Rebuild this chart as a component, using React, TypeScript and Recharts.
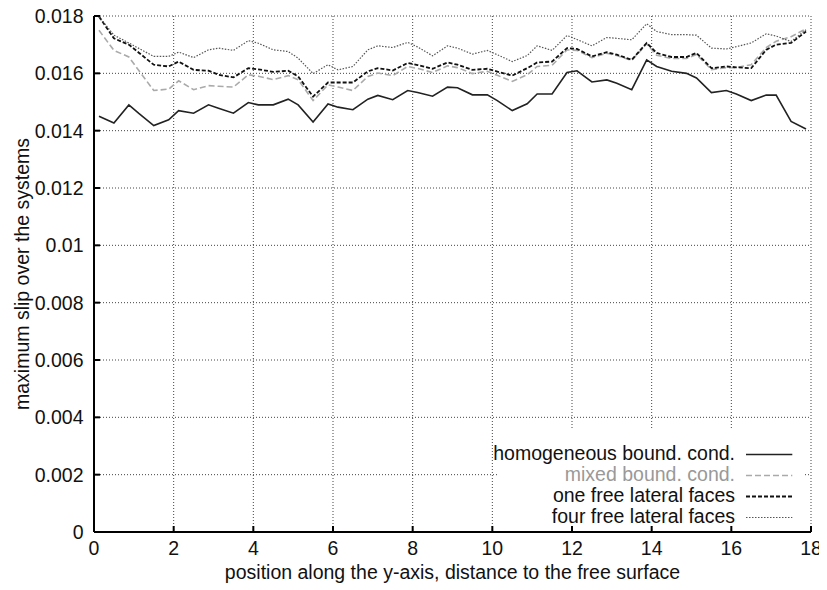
import React from 'react';
import { LineChart, Line, XAxis, YAxis, CartesianGrid, Legend, Label } from 'recharts';

// position along the y-axis (distance to the free surface)
const positions = [
  0.125, 0.5, 0.875, 1.125, 1.5, 1.875, 2.125, 2.5, 2.875, 3.125, 3.5, 3.875,
  4.125, 4.5, 4.875, 5.125, 5.5, 5.875, 6.125, 6.5, 6.875, 7.125, 7.5, 7.875,
  8.125, 8.5, 8.875, 9.125, 9.5, 9.875, 10.125, 10.5, 10.875, 11.125, 11.5, 11.875,
  12.125, 12.5, 12.875, 13.125, 13.5, 13.875, 14.125, 14.5, 14.875, 15.125, 15.5, 15.875,
  16.125, 16.5, 16.875, 17.125, 17.5, 17.875,
];

const homogeneous = [
  0.0145, 0.01427, 0.0149, 0.0146, 0.01418, 0.01438, 0.0147, 0.01461, 0.0149, 0.01478, 0.01461, 0.01498,
  0.0149, 0.0149, 0.0151, 0.0149, 0.0143, 0.01493, 0.01482, 0.01473, 0.0151, 0.01523, 0.01508, 0.0154,
  0.01533, 0.0152, 0.01552, 0.0155, 0.01525, 0.01525, 0.01505, 0.0147, 0.01494, 0.01528, 0.01528, 0.01603,
  0.01609, 0.0157, 0.01577, 0.01565, 0.01543, 0.01647, 0.01624, 0.01607, 0.016, 0.01584, 0.01533, 0.0154,
  0.01528, 0.01505, 0.01524, 0.01524, 0.01432, 0.01406,
];

const mixed = [
  0.0175, 0.0168, 0.01657, 0.0161, 0.0154, 0.01545, 0.01574, 0.01543, 0.01557, 0.01555, 0.01552, 0.01595,
  0.0159, 0.01578, 0.01592, 0.01578, 0.01505, 0.0156, 0.01552, 0.0154, 0.01589, 0.01601, 0.01592, 0.01624,
  0.01617, 0.01603, 0.01626, 0.0162, 0.01599, 0.01607, 0.01593, 0.01572, 0.01595, 0.01624, 0.01628, 0.01682,
  0.0168, 0.01655, 0.0167, 0.01662, 0.01645, 0.01703, 0.01663, 0.01652, 0.01652, 0.01666, 0.01613, 0.0162,
  0.0162, 0.0163, 0.0169, 0.01712, 0.01728, 0.01755,
];

const oneFree = [
  0.01798, 0.01722, 0.017, 0.01672, 0.0163, 0.01624, 0.01641, 0.01612, 0.01609, 0.01595, 0.01586, 0.01618,
  0.01614, 0.01605, 0.01609, 0.01589, 0.01519, 0.01568, 0.01568, 0.01568, 0.01607, 0.01618, 0.0161, 0.01636,
  0.01629, 0.01616, 0.01638, 0.0163, 0.01612, 0.01616, 0.01606, 0.01592, 0.01618, 0.01638, 0.01641, 0.01688,
  0.01685, 0.01659, 0.01674, 0.01665, 0.01647, 0.01706, 0.01671, 0.01657, 0.01657, 0.01671, 0.01618, 0.01624,
  0.01621, 0.01618, 0.01682, 0.017, 0.01706, 0.01746,
];

const fourFree = [
  0.01798, 0.01733, 0.01706, 0.01687, 0.01659, 0.01659, 0.01674, 0.01655, 0.01682, 0.01688, 0.0168, 0.01714,
  0.01705, 0.01682, 0.01676, 0.01653, 0.01599, 0.0163, 0.01612, 0.01624, 0.01682, 0.01696, 0.0169, 0.01708,
  0.01692, 0.01661, 0.01696, 0.01688, 0.01667, 0.0168, 0.01665, 0.01641, 0.01662, 0.01696, 0.0168, 0.01732,
  0.01718, 0.01696, 0.01725, 0.01722, 0.01717, 0.01773, 0.01746, 0.01735, 0.01735, 0.01733, 0.01688, 0.01685,
  0.01693, 0.01706, 0.01738, 0.0173, 0.01711, 0.01752,
];

const xTicks = [0, 2, 4, 6, 8, 10, 12, 14, 16, 18];
const yTicks = [0, 0.002, 0.004, 0.006, 0.008, 0.01, 0.012, 0.014, 0.016, 0.018];

const xLabel = 'position along the y-axis, distance to the free surface';
const yLabel = 'maximum slip over the systems';

const SERIES = [
  { key: 'homogeneous', name: 'homogeneous bound. cond.', stroke: '#222', width: 1.6, dash: undefined as string | undefined, text: '#111' },
  { key: 'mixed', name: 'mixed bound. cond.', stroke: '#aaa', width: 1.6, dash: '6 3', text: '#999' },
  { key: 'oneFree', name: 'one free lateral faces', stroke: '#111', width: 1.8, dash: '4 2', text: '#111' },
  { key: 'fourFree', name: 'four free lateral faces', stroke: '#555', width: 1.2, dash: '1.5 1.5', text: '#111' },
];

const data = positions.map((x, i) => ({
  x,
  homogeneous: homogeneous[i],
  mixed: mixed[i],
  oneFree: oneFree[i],
  fourFree: fourFree[i],
}));

const FONT = '"Liberation Sans", Arial, Helvetica, sans-serif';
const FS = 19.5;
const TICK_LEN = 6;

const BottomTick = (props: any) => {
  const { x, y, payload } = props;
  return (
    <g>
      <line x1={x} x2={x} y1={y} y2={y - TICK_LEN} stroke="#000" strokeWidth={2} />
      <text x={x} y={y + 9} dy="0.71em" textAnchor="middle" fontSize={FS} fontFamily={FONT} fill="#111">
        {String(payload.value)}
      </text>
    </g>
  );
};

const TopTick = (props: any) => {
  const { x, y } = props;
  return <line x1={x} x2={x} y1={y} y2={y + TICK_LEN} stroke="#000" strokeWidth={2} />;
};

const LeftTick = (props: any) => {
  const { x, y, payload } = props;
  return (
    <g>
      <line x1={x} x2={x + TICK_LEN} y1={y} y2={y} stroke="#000" strokeWidth={2} />
      <text x={x - 10.5} y={y} dy="0.355em" textAnchor="end" fontSize={FS} fontFamily={FONT} fill="#111">
        {String(payload.value)}
      </text>
    </g>
  );
};

const RightTick = (props: any) => {
  const { x, y } = props;
  return <line x1={x} x2={x - TICK_LEN} y1={y} y2={y} stroke="#000" strokeWidth={2} />;
};

const LEG_W = 306;
const LEG_H = 97;

const renderLegend = (props: any) => {
  const payload: any[] = props.payload || [];
  return (
    <div style={{ position: 'relative', width: LEG_W, height: LEG_H, background: '#fff', fontFamily: FONT, fontSize: FS }}>
      {SERIES.map((s, i) => {
        const entry = payload.find((p) => p.dataKey === s.key);
        const label = entry ? entry.value : s.name;
        return (
          <div key={s.key} style={{ position: 'absolute', left: 0, top: 14.75 + i * 21.13, width: LEG_W, height: 21.13 }}>
            <span style={{ position: 'absolute', right: 69, top: 0, lineHeight: '21.13px', whiteSpace: 'nowrap', color: s.text }}>
              {label}
            </span>
            <svg style={{ position: 'absolute', left: 247.7, top: 0 }} width={47} height={21.13}>
              <line x1={0} x2={46.3} y1={11.5} y2={11.5} stroke={s.stroke} strokeWidth={s.width} strokeDasharray={s.dash} />
            </svg>
          </div>
        );
      })}
    </div>
  );
};

export default function App() {
  return (
    <div style={{ marginTop: -8, marginLeft: -8, width: 827, height: 590 }}>
      <LineChart width={827} height={590} data={data} margin={{ top: 16, right: 16, bottom: 0, left: 8 }}>
        <CartesianGrid stroke="#444" strokeDasharray="1 2" strokeWidth={1} />
        <XAxis
          dataKey="x"
          type="number"
          domain={[0, 18]}
          ticks={xTicks}
          height={58}
          tickSize={0}
          tickMargin={0}
          tickLine={false}
          axisLine={{ stroke: '#000', strokeWidth: 2 }}
          tick={<BottomTick />}
          interval={0}
        >
          <Label
            content={(p: any) => {
              const vb = p.viewBox || { x: 94, y: 532, width: 717, height: 58 };
              return (
                <text x={vb.x + vb.width / 2} y={vb.y + 47} textAnchor="middle" fontSize={FS} fontFamily={FONT} fill="#111">
                  {xLabel}
                </text>
              );
            }}
          />
        </XAxis>
        <XAxis
          xAxisId="top"
          orientation="top"
          type="number"
          domain={[0, 18]}
          ticks={xTicks}
          height={0}
          tickSize={0}
          tickMargin={0}
          tickLine={false}
          axisLine={{ stroke: '#000', strokeWidth: 2 }}
          tick={<TopTick />}
          interval={0}
        />
        <YAxis
          type="number"
          domain={[0, 0.018]}
          ticks={yTicks}
          width={86}
          tickSize={0}
          tickMargin={0}
          tickLine={false}
          axisLine={{ stroke: '#000', strokeWidth: 2 }}
          tick={<LeftTick />}
          interval={0}
        >
          <Label
            content={(p: any) => {
              const vb = p.viewBox || { x: 8, y: 16, width: 86, height: 516 };
              const cx = vb.x + 21;
              const cy = vb.y + vb.height / 2;
              return (
                <text x={cx} y={cy} transform={`rotate(-90 ${cx} ${cy})`} textAnchor="middle" fontSize={FS} fontFamily={FONT} fill="#111">
                  {yLabel}
                </text>
              );
            }}
          />
        </YAxis>
        <YAxis
          yAxisId="right"
          orientation="right"
          type="number"
          domain={[0, 0.018]}
          ticks={yTicks}
          width={0}
          tickSize={0}
          tickMargin={0}
          tickLine={false}
          axisLine={{ stroke: '#000', strokeWidth: 2 }}
          tick={<RightTick />}
          interval={0}
        />
        {SERIES.map((s) => (
          <Line
            key={s.key}
            type="linear"
            dataKey={s.key}
            name={s.name}
            stroke={s.stroke}
            strokeWidth={s.width}
            strokeDasharray={s.dash}
            dot={false}
            activeDot={false}
            isAnimationActive={false}
          />
        ))}
        <Legend
          layout="vertical"
          verticalAlign="middle"
          align="center"
          content={renderLegend}
          wrapperStyle={{ left: 498, top: 428, width: LEG_W, height: LEG_H }}
        />
      </LineChart>
    </div>
  );
}
